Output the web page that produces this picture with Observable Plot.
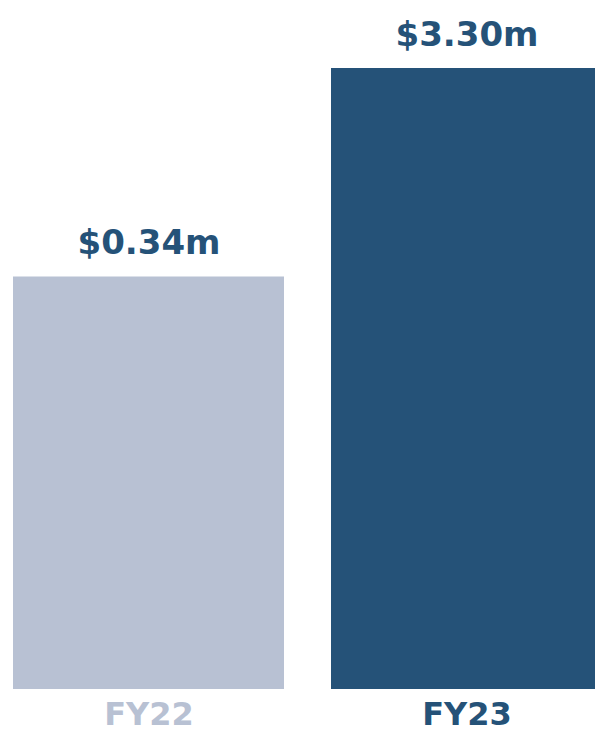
<!DOCTYPE html>
<html>
<head>
<meta charset="utf-8">
<script src="https://cdn.jsdelivr.net/npm/d3@7"></script>
<script src="https://cdn.jsdelivr.net/npm/@observablehq/plot@0.6"></script>
<style>
  html, body { margin: 0; padding: 0; background: #ffffff; }
  #chart svg { display: block; }
</style>
</head>
<body>
<div id="chart"></div>
<script>
const years = ["FY22", "FY23"];
const values = [0.34, 3.30];
const valueLabels = ["$0.34m", "$3.30m"];
const colors = ["#b8c1d3", "#255278"];

const data = years.map((year, i) => ({ year, value: values[i], label: valueLabels[i] }));

const chart = Plot.plot({
  width: 595,
  height: 733,
  marginLeft: 12,
  marginRight: 0,
  marginTop: 68,
  marginBottom: 44,
  style: { fontFamily: "DejaVu Sans", background: "#ffffff" },
  x: { domain: years, range: [12, 603], paddingInner: 0.1473, paddingOuter: 0, axis: null },
  y: { type: "pow", exponent: 0.18, domain: [0, 3.3], axis: null },
  color: { domain: years, range: colors },
  marks: [
    Plot.barY(data, { x: "year", y: "value", fill: "year" }),
    Plot.text(data, {
      x: "year", y: "value", text: "label",
      lineAnchor: "bottom", dy: -23,
      fill: "#255278", fontSize: 34, fontWeight: "bold"
    }),
    Plot.text(data, {
      x: "year", text: "year", frameAnchor: "bottom",
      lineAnchor: "bottom", dy: 35,
      fill: "year", fontSize: 32, fontWeight: "bold"
    })
  ]
});

document.getElementById("chart").appendChild(chart);
</script>
</body>
</html>
